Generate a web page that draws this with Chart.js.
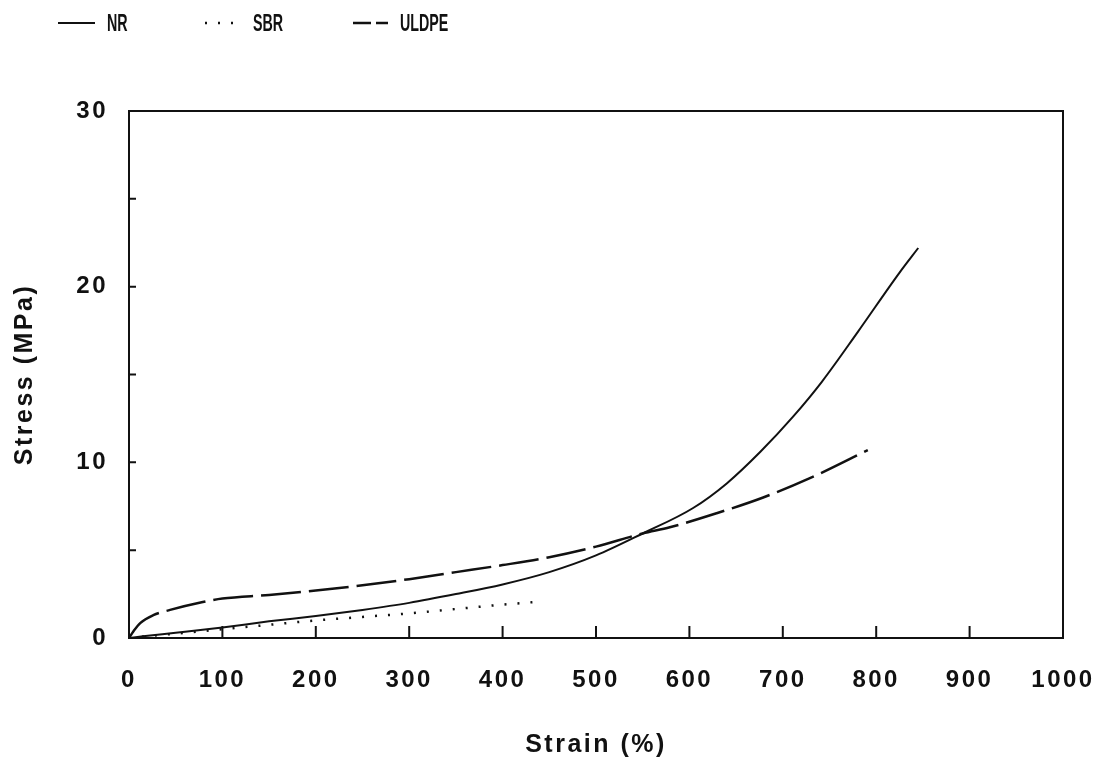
<!DOCTYPE html>
<html>
<head>
<meta charset="utf-8">
<script src="https://cdn.jsdelivr.net/npm/chart.js@4/dist/chart.umd.min.js"></script>
<style>
  html, body { margin: 0; padding: 0; background: #fff; }
  canvas { display: block; }
</style>
</head>
<body>
<canvas id="stressChart" width="1107" height="768"></canvas>
<script>
// Curvas esfuerzo-deformación (strain %, stress MPa)
const nrStrain = [0, 15, 50, 100, 150, 200, 250, 300, 350, 400, 450, 500, 550, 604, 640, 676, 711, 742, 780, 825, 845];
const nrStress = [0, 0.1, 0.3, 0.6, 0.95, 1.25, 1.6, 2.0, 2.5, 3.05, 3.75, 4.7, 5.95, 7.4, 8.8, 10.6, 12.6, 14.6, 17.4, 20.8, 22.2];

const sbrStrain = [0, 30, 100, 150, 200, 250, 300, 350, 400, 435];
const sbrStress = [0, 0.15, 0.5, 0.75, 1.0, 1.2, 1.4, 1.65, 1.9, 2.05];

const uldpeStrain = [0, 5, 12, 26, 44, 79, 100, 150, 200, 250, 300, 350, 400, 450, 500, 550, 579, 629, 679, 729, 791];
const uldpeStress = [0, 0.4, 0.85, 1.3, 1.6, 2.05, 2.25, 2.45, 2.7, 3.0, 3.35, 3.75, 4.15, 4.6, 5.2, 5.95, 6.3, 7.1, 8.0, 9.1, 10.7];

const seriesNames = ['NR', 'SBR', 'ULDPE'];
const yLabelValues = [0, 10, 20, 30];
const xTickValues = [100, 200, 300, 400, 500, 600, 700, 800, 900];
const yMinorValues = [5, 10, 15, 20, 25];

const toPoints = (xs, ys) => xs.map((v, i) => ({ x: v, y: ys[i] }));

const ink = '#111';
const fontFamily = '"Liberation Sans", Arial, sans-serif';

// Marco, marcas hacia dentro y leyenda superior
const framePlugin = {
  id: 'frame',
  beforeDraw(chart) {
    chart.ctx.letterSpacing = '2.5px';
  },
  afterDraw(chart) {
    const { ctx, chartArea: { left, right, top, bottom }, scales: { x, y } } = chart;
    ctx.save();
    ctx.letterSpacing = '0px';
    ctx.strokeStyle = ink;
    ctx.lineWidth = 2;
    ctx.setLineDash([]);
    ctx.strokeRect(left, top, right - left, bottom - top);

    ctx.beginPath();
    xTickValues.forEach(v => {
      const px = x.getPixelForValue(v);
      ctx.moveTo(px, bottom);
      ctx.lineTo(px, bottom - 12);
    });
    yMinorValues.forEach(v => {
      const py = y.getPixelForValue(v);
      ctx.moveTo(left, py);
      ctx.lineTo(left + 7, py);
    });
    ctx.stroke();

    // leyenda
    const legendItems = [
      { x0: 58, x1: 95, tx: 107 },
      { x0: 205, x1: 237, tx: 253 },
      { x0: 353, x1: 388, tx: 400 }
    ];
    const ly = 23;
    chart.data.datasets.forEach((ds, i) => {
      const it = legendItems[i];
      ctx.save();
      ctx.strokeStyle = ink;
      ctx.lineWidth = ds.borderWidth;
      ctx.setLineDash(i === 2 ? [18, 5] : (ds.borderDash || []));
      ctx.beginPath();
      ctx.moveTo(it.x0, ly);
      ctx.lineTo(it.x1, ly);
      ctx.stroke();
      ctx.restore();

      ctx.save();
      ctx.fillStyle = ink;
      ctx.font = 'bold 23px ' + fontFamily;
      ctx.textBaseline = 'middle';
      ctx.translate(it.tx, ly + 2);
      ctx.scale(0.62, 1);
      ctx.fillText(ds.label, 0, 0);
      ctx.restore();
    });
    ctx.restore();
  }
};

const ctx = document.getElementById('stressChart').getContext('2d');
const stressChart = new Chart(ctx, {
  type: 'line',
  data: {
    datasets: [
      {
        label: seriesNames[0],
        data: toPoints(nrStrain, nrStress),
        borderColor: ink,
        borderWidth: 2,
        cubicInterpolationMode: 'monotone',
        pointRadius: 0
      },
      {
        label: seriesNames[1],
        data: toPoints(sbrStrain, sbrStress),
        borderColor: ink,
        borderWidth: 2.5,
        borderDash: [2, 11],
        cubicInterpolationMode: 'monotone',
        pointRadius: 0
      },
      {
        label: seriesNames[2],
        data: toPoints(uldpeStrain, uldpeStress),
        borderColor: ink,
        borderWidth: 2.5,
        borderDash: [40, 8],
        cubicInterpolationMode: 'monotone',
        pointRadius: 0
      }
    ]
  },
  options: {
    responsive: false,
    animation: false,
    devicePixelRatio: 1,
    layout: { padding: { top: 111, right: 44, left: 0, bottom: 0 } },
    plugins: {
      legend: { display: false },
      tooltip: { enabled: false }
    },
    scales: {
      x: {
        type: 'linear',
        min: 0,
        max: 1000,
        grid: { display: false, drawTicks: false },
        border: { display: false },
        ticks: {
          stepSize: 100,
          color: ink,
          padding: 28,
          maxRotation: 0,
          font: { family: fontFamily, size: 24, weight: 'bold' },
          callback: v => String(v)
        },
        title: {
          display: true,
          text: 'Strain (%)',
          color: ink,
          padding: { top: 0, bottom: 8 },
          font: { family: fontFamily, size: 25, weight: 'bold' }
        },
        afterFit(scale) { scale.height = 130; scale.paddingRight = 0; }
      },
      y: {
        min: 0,
        max: 30,
        grid: { display: false, drawTicks: false },
        border: { display: false },
        ticks: {
          stepSize: 5,
          color: ink,
          padding: 21,
          font: { family: fontFamily, size: 24, weight: 'bold' },
          callback: v => (yLabelValues.includes(v) ? v : '')
        },
        title: {
          display: true,
          text: 'Stress (MPa)',
          color: ink,
          padding: { top: 10, bottom: 0 },
          font: { family: fontFamily, size: 25, weight: 'bold' }
        },
        afterFit(scale) { scale.width = 129; }
      }
    }
  },
  plugins: [framePlugin]
});
</script>
</body>
</html>
